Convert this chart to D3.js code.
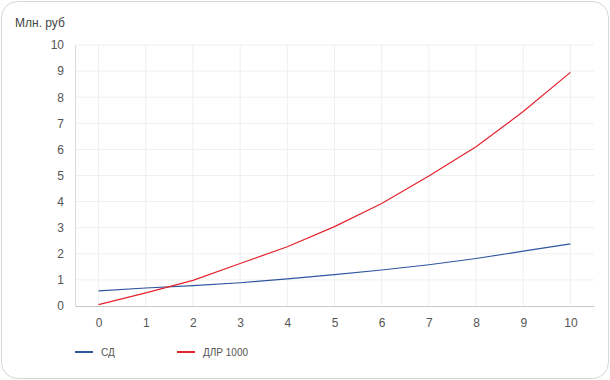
<!DOCTYPE html>
<html>
<head>
<meta charset="utf-8">
<script src="https://cdn.jsdelivr.net/npm/d3@7"></script>
<style>
  body { margin: 0; background: #fff; font-family: "Liberation Sans", Arial, sans-serif; }
</style>
</head>
<body>
<div id="chart"></div>
<script>
// Chart data
var years = [0, 1, 2, 3, 4, 5, 6, 7, 8, 9, 10];
var sdValues = [0.58, 0.69, 0.78, 0.89, 1.04, 1.2, 1.38, 1.58, 1.82, 2.1, 2.38];
var dlrValues = [0.05, 0.5, 0.98, 1.63, 2.27, 3.04, 3.93, 4.98, 6.1, 7.45, 8.95];
var yTicks = [0, 1, 2, 3, 4, 5, 6, 7, 8, 9, 10];
var seriesNames = ["СД", "ДЛР 1000"];
var seriesColors = ["#2f56a0", "#e5232d"];

var W = 610, H = 380;
var LEFT = 75, RIGHT = 594, TOP = 45, BOTTOM = 306;
var FONT = "'Liberation Sans', Arial, sans-serif";

var svg = d3.select("#chart").append("svg")
  .attr("width", W)
  .attr("height", H);

// card frame
svg.append("rect")
  .attr("x", 1.5).attr("y", 1.5)
  .attr("width", W - 3).attr("height", H - 3)
  .attr("rx", 16).attr("ry", 16)
  .attr("fill", "#fff")
  .attr("stroke", "#d6d6d6");

var x = d3.scaleLinear().domain([-0.5, 10.5]).range([LEFT, RIGHT]);
var y = d3.scaleLinear().domain([0, 10]).range([BOTTOM, TOP]);

// grid
svg.append("g").selectAll("line.h")
  .data(yTicks.slice(1))
  .enter().append("line")
  .attr("x1", LEFT).attr("x2", RIGHT)
  .attr("y1", function(d) { return y(d); })
  .attr("y2", function(d) { return y(d); })
  .attr("stroke", "#efefef");

svg.append("g").selectAll("line.v")
  .data(years)
  .enter().append("line")
  .attr("x1", function(d) { return x(d); })
  .attr("x2", function(d) { return x(d); })
  .attr("y1", TOP).attr("y2", BOTTOM)
  .attr("stroke", "#efefef");

// axes
var yAxis = svg.append("g")
  .attr("transform", "translate(" + LEFT + ",0)")
  .call(d3.axisLeft(y).tickValues(yTicks).tickSize(0).tickPadding(11));
yAxis.select(".domain").attr("stroke", "#d9d9d9");

var xAxis = svg.append("g")
  .attr("transform", "translate(0," + BOTTOM + ")")
  .call(d3.axisBottom(x).tickValues(years).tickSize(0).tickPadding(12).tickFormat(d3.format("d")));
xAxis.select(".domain").attr("stroke", "#c8c8c8").attr("stroke-width", 1.2);

svg.selectAll(".tick text")
  .attr("fill", "#555")
  .style("font-size", "12px")
  .style("font-family", FONT);

// unit label
svg.append("text")
  .attr("x", 15).attr("y", 27)
  .attr("fill", "#444")
  .style("font-size", "12px")
  .style("font-family", FONT)
  .text("Млн. руб");

// lines
var line = d3.line()
  .x(function(d, i) { return x(years[i]); })
  .y(function(d) { return y(d); });

[sdValues, dlrValues].forEach(function(vals, i) {
  svg.append("path")
    .datum(vals)
    .attr("fill", "none")
    .attr("stroke", seriesColors[i])
    .attr("stroke-width", 1.2)
    .attr("d", line);
});

// legend
var legendX = [75, 177];
seriesNames.forEach(function(name, i) {
  svg.append("line")
    .attr("x1", legendX[i]).attr("x2", legendX[i] + 18)
    .attr("y1", 352).attr("y2", 352)
    .attr("stroke", seriesColors[i])
    .attr("stroke-width", 2);
  svg.append("text")
    .attr("x", legendX[i] + 26).attr("y", 356)
    .attr("fill", "#555")
    .style("font-size", "10px")
    .style("font-family", FONT)
    .text(name);
});
</script>
</body>
</html>
